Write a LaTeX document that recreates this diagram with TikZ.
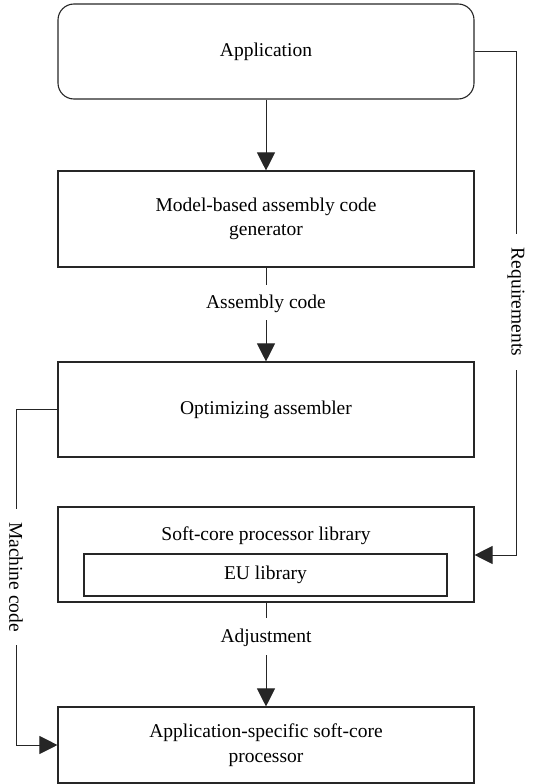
\documentclass[tikz,border=0pt]{standalone}
\usepackage{fontspec}
\setmainfont{Liberation Serif}
\usetikzlibrary{arrows.meta}
\begin{document}
\begin{tikzpicture}[x=1pt,y=-1pt,
  box/.style={draw=black!85, line width=1.1pt, minimum width=416pt, align=center, font=\fontsize{19.5}{24.5}\selectfont, inner sep=0pt},
  lbl/.style={font=\fontsize{19.5}{24}\selectfont, inner sep=3pt},
  conn/.style={draw=black!85, line width=1pt},
  arr/.style={conn, -{Triangle[length=18pt,width=18pt]}}]
\useasboundingbox (0,0) rectangle (558,784);
\node[box, rounded corners=16pt, minimum height=95pt] (app) at (266,51.5) {Application};
\node[box, minimum height=96pt] (model) at (266,219) {Model-based assembly code\\generator};
\node[box, minimum height=95pt] (opt) at (266,409.5) {Optimizing assembler};
\node[box, minimum height=95pt] (lib) at (266,554.5) {};
\node[lbl] (libt) at (266,536) {Soft-core processor library};
\node[box, minimum width=363pt, minimum height=42pt] (eu) at (265.5,575) {EU library};
\node[box, minimum height=76pt] (asp) at (266,745) {Application-specific soft-core\\processor};
\node[lbl, anchor=base, text height=20pt, text depth=9pt] (ac) at (266,308) {Assembly code};
\node[lbl, anchor=base, text height=21pt, text depth=10pt] (adj) at (266,642) {Adjustment};
\node[lbl, rotate=-90, inner xsep=14pt] (req) at (516,302) {Requirements};
\node[lbl, rotate=-90, inner xsep=13pt] (mc) at (16,577) {Machine code};
\coordinate (r1) at (516,51.5);
\coordinate (r2) at (516,555);
\coordinate (m1) at (16,409.5);
\coordinate (m2) at (16,745);
\draw[arr] (app.south) -- (model.north);
\draw[conn] (model.south) -- (ac.north);
\draw[arr] (ac.south) -- (opt.north);
\draw[conn] (lib.south) -- (adj.north);
\draw[arr] (adj.south) -- (asp.north);
\draw[conn] (app.east) -- (r1) -- (req.west);
\draw[arr] (req.east) -- (r2) -- (lib.east |- r2);
\draw[conn] (opt.west) -- (m1) -- (mc.west);
\draw[arr] (mc.east) -- (m2) -- (asp.west |- m2);
\end{tikzpicture}
\end{document}
